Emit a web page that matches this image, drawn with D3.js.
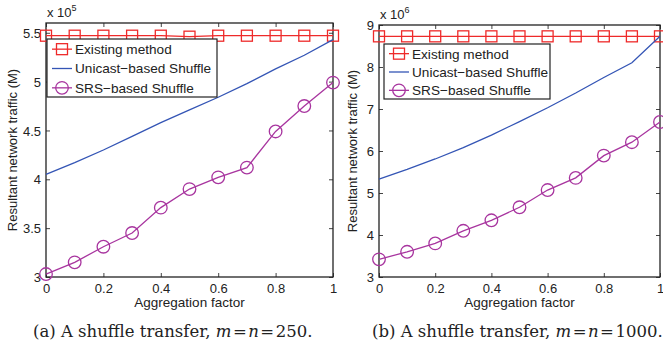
<!DOCTYPE html>
<html><head><meta charset="utf-8">
<script src="https://cdn.jsdelivr.net/npm/d3@7"></script>
<style>
body{margin:0;background:#fff;}
svg{display:block;}
text{font-family:"Liberation Sans",Arial,sans-serif;fill:#222;}
.cap{font-family:"DejaVu Serif","Liberation Serif",serif;font-size:16.5px;}
</style></head><body>
<script>
const factors=[0,0.1,0.2,0.3,0.4,0.5,0.6,0.7,0.8,0.9,1];
const xTicks=[0,0.2,0.4,0.6,0.8,1];
const xTickLabels=["0","0.2","0.4","0.6","0.8","1"];
const seriesNames=["Existing method","Unicast\u2212based Shuffle","SRS\u2212based Shuffle"];

// Panel (a): values in units of 10^5
const existingA=[5.47,5.47,5.47,5.47,5.47,5.46,5.47,5.47,5.47,5.47,5.47];
const unicastA=[4.05,4.17,4.30,4.44,4.58,4.71,4.84,4.98,5.13,5.27,5.43];
const srsA=[3.03,3.15,3.31,3.45,3.71,3.90,4.02,4.12,4.49,4.75,4.99];
const yTicksA=[3,3.5,4,4.5,5,5.5];
const yTickLabelsA=["3","3.5","4","4.5","5","5.5"];
const yDomainA=[3,5.6];

// Panel (b): values in units of 10^6
const existingB=[8.73,8.73,8.73,8.73,8.73,8.73,8.73,8.73,8.73,8.73,8.73];
const unicastB=[5.33,5.56,5.81,6.08,6.38,6.70,7.03,7.38,7.75,8.10,8.73];
const srsB=[3.42,3.60,3.80,4.10,4.35,4.66,5.07,5.36,5.89,6.21,6.69];
const yTicksB=[3,4,5,6,7,8,9];
const yTickLabelsB=["3","4","5","6","7","8","9"];
const yDomainB=[3,9];

const colors={existing:"#ee2a2a",unicast:"#3455b5",srs:"#a8359f"};

const svg=d3.select("body").append("svg").attr("width",663).attr("height",349);

function panel(cfg){
  const {x0,x1,y0,y1}=cfg;
  const g=svg.append("g");
  const x=d3.scaleLinear().domain([0,1]).range([x0,x1]);
  const y=d3.scaleLinear().domain(cfg.yDomain).range([y1,y0]);
  const ax=g.append("g").attr("transform",`translate(0,${y1})`)
    .call(d3.axisBottom(x).tickValues(xTicks).tickFormat((d,i)=>xTickLabels[i]).tickSizeInner(-4).tickSizeOuter(0).tickPadding(7));
  const axT=g.append("g").attr("transform",`translate(0,${y0})`)
    .call(d3.axisTop(x).tickValues(xTicks).tickFormat("").tickSizeInner(-4).tickSizeOuter(0));
  const ay=g.append("g").attr("transform",`translate(${x0},0)`)
    .call(d3.axisLeft(y).tickValues(cfg.yTicks).tickFormat((d,i)=>cfg.yTickLabels[i]).tickSizeInner(-4).tickSizeOuter(0).tickPadding(5));
  const ayR=g.append("g").attr("transform",`translate(${x1},0)`)
    .call(d3.axisRight(y).tickValues(cfg.yTicks).tickFormat("").tickSizeInner(-4).tickSizeOuter(0));
  [ax,axT,ay,ayR].forEach(a=>{a.select(".domain").remove();a.selectAll("line").attr("stroke","#444");
    a.selectAll("text").attr("font-size",13).attr("fill","#222").attr("font-family","Liberation Sans,Arial,sans-serif");});
  ay.selectAll("text").attr("dy","0.36em");
  g.append("rect").attr("x",x0).attr("y",y0).attr("width",x1-x0).attr("height",y1-y0)
    .attr("fill","none").attr("stroke","#222").attr("stroke-width",1.3);
  const ex=g.append("text").attr("x",x0+1).attr("y",y0-6).attr("font-size",13);
  ex.append("tspan").text("x 10");
  ex.append("tspan").attr("dy",-6).attr("font-size",9).text(cfg.exp);
  g.append("text").attr("x",(x0+x1)/2).attr("y",y1+30).attr("text-anchor","middle").attr("font-size",13.5).text("Aggregation factor");
  g.append("text").attr("transform",`translate(${cfg.ytx},${(y0+y1)/2}) rotate(-90)`).attr("text-anchor","middle").attr("font-size",13).text("Resultant network traffic (M)");
  const line=d3.line().x((d,i)=>x(factors[i])).y(d=>y(d));
  const data=[[cfg.existing,colors.existing,"sq"],[cfg.unicast,colors.unicast,null],[cfg.srs,colors.srs,"ci"]];
  data.forEach(([vals,col,mk])=>{
    g.append("path").datum(vals).attr("d",line).attr("fill","none").attr("stroke",col).attr("stroke-width",1.3);
    if(mk==="sq") g.selectAll(null).data(vals).enter().append("rect")
      .attr("x",(d,i)=>x(factors[i])-5.5).attr("y",d=>y(d)-5.5).attr("width",11).attr("height",11)
      .attr("fill","none").attr("stroke",col).attr("stroke-width",1.3);
    if(mk==="ci") g.selectAll(null).data(vals).enter().append("circle")
      .attr("cx",(d,i)=>x(factors[i])).attr("cy",d=>y(d)).attr("r",6.3)
      .attr("fill","none").attr("stroke",col).attr("stroke-width",1.3);
  });
  const L=cfg.legend;
  const lg=g.append("g");
  lg.append("rect").attr("x",L.x).attr("y",L.y).attr("width",L.w).attr("height",L.h).attr("fill","#fff").attr("stroke","#222").attr("stroke-width",1.2);
  const rowH=(L.h)/3;
  data.forEach(([vals,col,mk],i)=>{
    const cy=L.y+rowH*(i+0.5)+0.5;
    lg.append("line").attr("x1",L.x+5).attr("x2",L.x+25).attr("y1",cy).attr("y2",cy).attr("stroke",col).attr("stroke-width",1.3);
    if(mk==="sq") lg.append("rect").attr("x",L.x+15-5.5).attr("y",cy-5.5).attr("width",11).attr("height",11).attr("fill","none").attr("stroke",col).attr("stroke-width",1.3);
    if(mk==="ci") lg.append("circle").attr("cx",L.x+15).attr("cy",cy).attr("r",6.3).attr("fill","none").attr("stroke",col).attr("stroke-width",1.3);
    lg.append("text").attr("x",L.x+28).attr("y",cy).attr("dy","0.36em").attr("font-size",13.6).text(seriesNames[i]);
  });
  const cap=svg.append("text").attr("class","cap").attr("x",cfg.capx).attr("y",337);
  cap.append("tspan").text(cfg.capLabel+" A shuffle transfer, ");
  cap.append("tspan").attr("font-style","italic").text("m");
  cap.append("tspan").attr("dx",1.5).text("=");
  cap.append("tspan").attr("dx",1.5).attr("font-style","italic").text("n");
  cap.append("tspan").attr("dx",1.5).text("=");
  cap.append("tspan").attr("dx",1.5).text(cfg.capN+".");
}

panel({x0:46,x1:333,y0:23,y1:277,yDomain:yDomainA,yTicks:yTicksA,yTickLabels:yTickLabelsA,exp:"5",ytx:17,
  existing:existingA,unicast:unicastA,srs:srsA,legend:{x:47,y:39,w:170,h:58},capx:33,capLabel:"(a)",capN:"250"});
panel({x0:379,x1:660,y0:25,y1:277,yDomain:yDomainB,yTicks:yTicksB,yTickLabels:yTickLabelsB,exp:"6",ytx:357,
  existing:existingB,unicast:unicastB,srs:srsB,legend:{x:384,y:44,w:166,h:55},capx:372,capLabel:"(b)",capN:"1000"});
</script>
</body></html>
